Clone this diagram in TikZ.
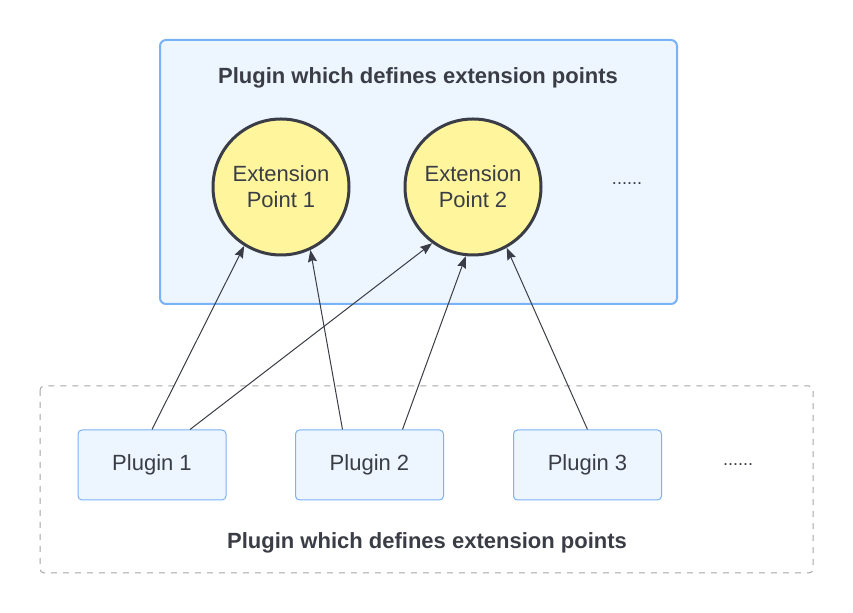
\documentclass[tikz,border=0pt]{standalone}
\usepackage{fontspec}
\setmainfont{Liberation Sans}
\usepackage{tikz}
\usetikzlibrary{arrows.meta,calc,positioning}

\definecolor{boxfill}{RGB}{237,245,255}
\definecolor{boxline}{RGB}{122,178,247}
\definecolor{epfill}{RGB}{255,245,157}
\definecolor{inkgray}{RGB}{58,61,69}
\definecolor{dashgray}{RGB}{165,165,165}

\begin{document}
\begin{tikzpicture}
[
	              x = 0.5pt,
	              y = -0.5pt,
	           ->, >= {Stealth[length=6pt, width=4.5pt, inset=0.8pt]},
	     font = \fontsize{11}{13}\selectfont,
	   text = inkgray,
	  outer/.style = { draw=boxline, fill=boxfill, line width=1pt, rounded corners=3pt },
	  group/.style = { draw=dashgray, dashed, line width=0.5pt, rounded corners=2pt },
	extpoint/.style = { draw=inkgray, fill=epfill, circle, line width=1.5pt,
	                    minimum size=68pt, align=center, inner sep=0pt },
	  plugin/.style = { draw=boxline, fill=boxfill, line width=0.5pt, rounded corners=2pt,
	                    minimum width=74pt, minimum height=35pt },
	   title/.style = { font=\fontsize{11}{13}\selectfont\bfseries },
	    dots/.style = { font=\fontsize{9}{11}\selectfont },
	    link/.style = { draw=inkgray, line width=0.5pt }
]
	\useasboundingbox (0,0) rectangle (853,613);

	% defining plugin
	% nodes
	\filldraw [outer] (160,40) rectangle (677,304);
	\node (T1)  at (418,78)  [title]    {Plugin which defines extension points};
	\node (EP1) at (281,187) [extpoint] {Extension\\Point 1};
	\node (EP2) at (473,187) [extpoint] {Extension\\Point 2};
	\node (EPx) at (627,184) [dots]     {......};

	% extending plugins
	% nodes
	\draw [group, -] (40,386) rectangle (813,573);
	\node (P1) at (152,465)   [plugin]  {Plugin 1};
	\node (P2) at (369.5,465) [plugin]  {Plugin 2};
	\node (P3) at (587.5,465) [plugin]  {Plugin 3};
	\node (Px) at (738,465)   [dots]    {......};
	\node (T2) at (427,543)   [title]   {Plugin which defines extension points};

	% edges
	\draw [link] (P1.north) -- (EP1.238);
	\draw [link] ($(P1.north)+(38,0)$) -- (EP2.234);
	\draw [link] ($(P2.north)+(-27,0)$) -- (EP1.295);
	\draw [link] ($(P2.north)+(33,0)$) -- (EP2.264);
	\draw [link] (P3.north) -- (EP2.299);
\end{tikzpicture}
\end{document}
